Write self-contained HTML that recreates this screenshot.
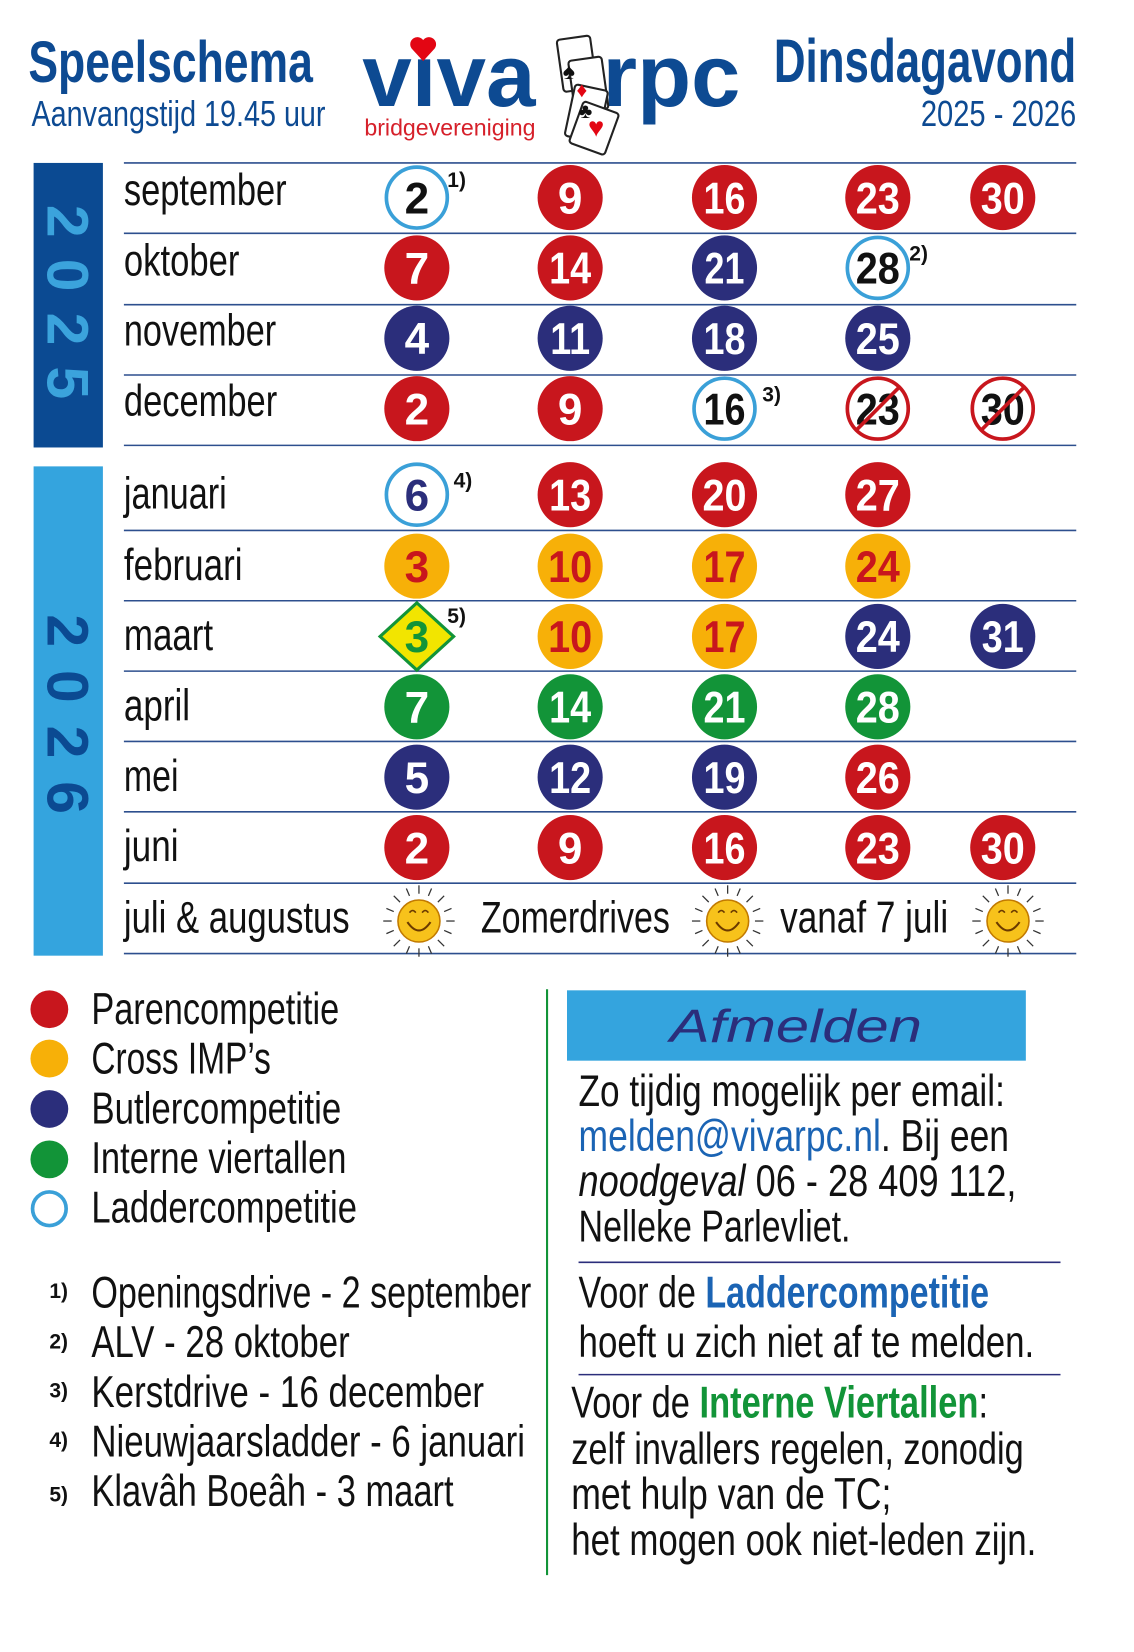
<!DOCTYPE html>
<html><head><meta charset="utf-8"><style>
html,body{margin:0;padding:0;background:#fff;}
svg{display:block;}
text{font-family:"Liberation Sans",sans-serif;}
</style></head><body>
<svg width="1134" height="1652" viewBox="0 0 1080 1573" xmlns="http://www.w3.org/2000/svg">
<rect width="1080" height="1573" fill="#fff"/>
<!-- header -->
<text x="27" y="78" font-size="56" font-weight="bold" fill="#0d4a92" textLength="271" lengthAdjust="spacingAndGlyphs">Speelschema</text>
<text x="30" y="120" font-size="34" fill="#0d4a92" textLength="280" lengthAdjust="spacingAndGlyphs">Aanvangstijd 19.45 uur</text>
<text x="737" y="78" font-size="58" font-weight="bold" fill="#0d4a92" textLength="288" lengthAdjust="spacingAndGlyphs">Dinsdagavond</text>
<text x="877" y="120" font-size="34" fill="#0d4a92" textLength="148" lengthAdjust="spacingAndGlyphs">2025 - 2026</text>
<!-- logo -->
<text x="345" y="101" font-size="84" font-weight="bold" fill="#0d4a92" textLength="165" lengthAdjust="spacingAndGlyphs">viva</text>
<text x="574" y="101" font-size="84" font-weight="bold" fill="#0d4a92" textLength="131" lengthAdjust="spacingAndGlyphs">rpc</text>
<text x="347" y="129" font-size="22" fill="#d6202a" textLength="163" lengthAdjust="spacingAndGlyphs">bridgevereniging</text>
<path d="M403 58 L392 46 A6 6 0 0 1 403 38 A6 6 0 0 1 414 46 Z" fill="#e30613"/>
<g stroke="#222" stroke-width="2" fill="#fff">
<rect x="0" y="0" width="32" height="50" rx="3" transform="translate(530 38) rotate(-8)"/>
<rect x="0" y="0" width="32" height="50" rx="3" transform="translate(541 58) rotate(-8)"/>
<rect x="0" y="0" width="32" height="50" rx="3" transform="translate(548 80) rotate(12)"/>
<rect x="0" y="0" width="36" height="42" rx="3" transform="translate(556 96) rotate(20)"/>
</g>
<text x="536" y="75" font-size="22" fill="#111">♠</text>
<text x="549" y="92" font-size="20" fill="#e30613">♦</text>
<text x="551" y="112" font-size="20" fill="#111">♣</text>
<text x="560" y="130" font-size="26" fill="#e30613">♥</text>
<!-- year bars -->
<rect x="32" y="155" width="66" height="271" fill="#0b4a92"/>
<text transform="translate(45 195) rotate(90)" font-size="56" font-weight="bold" fill="#3ba3dc" textLength="185" lengthAdjust="spacing">2025</text>
<rect x="32" y="444" width="66" height="466" fill="#34a4de"/>
<text transform="translate(45 585) rotate(90)" font-size="56" font-weight="bold" fill="#0b4a92" textLength="190" lengthAdjust="spacing">2026</text>
<!-- lines -->
<g stroke="#2d4f8e" stroke-width="1.5">
<line x1="118" y1="155" x2="1025" y2="155"/><line x1="118" y1="222" x2="1025" y2="222"/>
<line x1="118" y1="290" x2="1025" y2="290"/><line x1="118" y1="357" x2="1025" y2="357"/>
<line x1="118" y1="424" x2="1025" y2="424"/><line x1="118" y1="505" x2="1025" y2="505"/>
<line x1="118" y1="572" x2="1025" y2="572"/><line x1="118" y1="639" x2="1025" y2="639"/>
<line x1="118" y1="706" x2="1025" y2="706"/><line x1="118" y1="773" x2="1025" y2="773"/>
<line x1="118" y1="841" x2="1025" y2="841"/><line x1="118" y1="908" x2="1025" y2="908"/>
</g>
<!-- months -->
<g font-size="42" fill="#111">
<text x="118" y="195" textLength="155" lengthAdjust="spacingAndGlyphs">september</text>
<text x="118" y="262" textLength="110" lengthAdjust="spacingAndGlyphs">oktober</text>
<text x="118" y="329" textLength="145" lengthAdjust="spacingAndGlyphs">november</text>
<text x="118" y="396" textLength="146" lengthAdjust="spacingAndGlyphs">december</text>
<text x="118" y="484" textLength="98" lengthAdjust="spacingAndGlyphs">januari</text>
<text x="118" y="552" textLength="113" lengthAdjust="spacingAndGlyphs">februari</text>
<text x="118" y="619" textLength="85" lengthAdjust="spacingAndGlyphs">maart</text>
<text x="118" y="686" textLength="63" lengthAdjust="spacingAndGlyphs">april</text>
<text x="118" y="753" textLength="52" lengthAdjust="spacingAndGlyphs">mei</text>
<text x="118" y="820" textLength="52" lengthAdjust="spacingAndGlyphs">juni</text>
<text x="118" y="888" textLength="215" lengthAdjust="spacingAndGlyphs">juli &amp; augustus</text>
<text x="458" y="888" textLength="180" lengthAdjust="spacingAndGlyphs">Zomerdrives</text>
<text x="743" y="888" textLength="160" lengthAdjust="spacingAndGlyphs">vanaf 7 juli</text>
</g>
<!-- circles -->
<g font-size="42" font-weight="bold" text-anchor="middle">
<circle cx="397" cy="188" r="29" fill="#fff" stroke="#3aa0d8" stroke-width="3.5"/><text x="397" y="203" fill="#111">2</text>
<circle cx="543" cy="188" r="31" fill="#c8161d"/><text x="543" y="203" fill="#fff">9</text>
<circle cx="690" cy="188" r="31" fill="#c8161d"/><text x="690" y="203" fill="#fff" textLength="40" lengthAdjust="spacingAndGlyphs">16</text>
<circle cx="836" cy="188" r="31" fill="#c8161d"/><text x="836" y="203" fill="#fff" textLength="42" lengthAdjust="spacingAndGlyphs">23</text>
<circle cx="955" cy="188" r="31" fill="#c8161d"/><text x="955" y="203" fill="#fff" textLength="42" lengthAdjust="spacingAndGlyphs">30</text>
<circle cx="397" cy="255" r="31" fill="#c8161d"/><text x="397" y="270" fill="#fff">7</text>
<circle cx="543" cy="255" r="31" fill="#c8161d"/><text x="543" y="270" fill="#fff" textLength="40" lengthAdjust="spacingAndGlyphs">14</text>
<circle cx="690" cy="255" r="31" fill="#2b2e7b"/><text x="690" y="270" fill="#fff" textLength="38" lengthAdjust="spacingAndGlyphs">21</text>
<circle cx="836" cy="255" r="29" fill="#fff" stroke="#3aa0d8" stroke-width="3.5"/><text x="836" y="270" fill="#111" textLength="42" lengthAdjust="spacingAndGlyphs">28</text>
<circle cx="397" cy="322" r="31" fill="#2b2e7b"/><text x="397" y="337" fill="#fff">4</text>
<circle cx="543" cy="322" r="31" fill="#2b2e7b"/><text x="543" y="337" fill="#fff" textLength="38" lengthAdjust="spacingAndGlyphs">11</text>
<circle cx="690" cy="322" r="31" fill="#2b2e7b"/><text x="690" y="337" fill="#fff" textLength="40" lengthAdjust="spacingAndGlyphs">18</text>
<circle cx="836" cy="322" r="31" fill="#2b2e7b"/><text x="836" y="337" fill="#fff" textLength="42" lengthAdjust="spacingAndGlyphs">25</text>
<circle cx="397" cy="389" r="31" fill="#c8161d"/><text x="397" y="404" fill="#fff">2</text>
<circle cx="543" cy="389" r="31" fill="#c8161d"/><text x="543" y="404" fill="#fff">9</text>
<circle cx="690" cy="389" r="29" fill="#fff" stroke="#3aa0d8" stroke-width="3.5"/><text x="690" y="404" fill="#111" textLength="40" lengthAdjust="spacingAndGlyphs">16</text>
<circle cx="836" cy="389" r="29" fill="#fff" stroke="#c8161d" stroke-width="3.5"/><text x="836" y="404" fill="#111" textLength="42" lengthAdjust="spacingAndGlyphs">23</text>
<line x1="815" y1="410" x2="857" y2="368" stroke="#c8161d" stroke-width="3.5"/>
<circle cx="955" cy="389" r="29" fill="#fff" stroke="#c8161d" stroke-width="3.5"/><text x="955" y="404" fill="#111" textLength="42" lengthAdjust="spacingAndGlyphs">30</text>
<line x1="934" y1="410" x2="976" y2="368" stroke="#c8161d" stroke-width="3.5"/>
<circle cx="397" cy="471" r="29" fill="#fff" stroke="#3aa0d8" stroke-width="3.5"/><text x="397" y="486" fill="#2b2e7b">6</text>
<circle cx="543" cy="471" r="31" fill="#c8161d"/><text x="543" y="486" fill="#fff" textLength="40" lengthAdjust="spacingAndGlyphs">13</text>
<circle cx="690" cy="471" r="31" fill="#c8161d"/><text x="690" y="486" fill="#fff" textLength="42" lengthAdjust="spacingAndGlyphs">20</text>
<circle cx="836" cy="471" r="31" fill="#c8161d"/><text x="836" y="486" fill="#fff" textLength="42" lengthAdjust="spacingAndGlyphs">27</text>
<circle cx="397" cy="539" r="31" fill="#f7b008"/><text x="397" y="554" fill="#c8161d">3</text>
<circle cx="543" cy="539" r="31" fill="#f7b008"/><text x="543" y="554" fill="#c8161d" textLength="42" lengthAdjust="spacingAndGlyphs">10</text>
<circle cx="690" cy="539" r="31" fill="#f7b008"/><text x="690" y="554" fill="#c8161d" textLength="40" lengthAdjust="spacingAndGlyphs">17</text>
<circle cx="836" cy="539" r="31" fill="#f7b008"/><text x="836" y="554" fill="#c8161d" textLength="42" lengthAdjust="spacingAndGlyphs">24</text>
<polygon points="397,574 432,606 397,638 362,606" fill="#f2e500" stroke="#129438" stroke-width="3"/><text x="397" y="621" fill="#129438">3</text>
<circle cx="543" cy="606" r="31" fill="#f7b008"/><text x="543" y="621" fill="#c8161d" textLength="42" lengthAdjust="spacingAndGlyphs">10</text>
<circle cx="690" cy="606" r="31" fill="#f7b008"/><text x="690" y="621" fill="#c8161d" textLength="40" lengthAdjust="spacingAndGlyphs">17</text>
<circle cx="836" cy="606" r="31" fill="#2b2e7b"/><text x="836" y="621" fill="#fff" textLength="42" lengthAdjust="spacingAndGlyphs">24</text>
<circle cx="955" cy="606" r="31" fill="#2b2e7b"/><text x="955" y="621" fill="#fff" textLength="40" lengthAdjust="spacingAndGlyphs">31</text>
<circle cx="397" cy="673" r="31" fill="#129438"/><text x="397" y="688" fill="#fff">7</text>
<circle cx="543" cy="673" r="31" fill="#129438"/><text x="543" y="688" fill="#fff" textLength="40" lengthAdjust="spacingAndGlyphs">14</text>
<circle cx="690" cy="673" r="31" fill="#129438"/><text x="690" y="688" fill="#fff" textLength="40" lengthAdjust="spacingAndGlyphs">21</text>
<circle cx="836" cy="673" r="31" fill="#129438"/><text x="836" y="688" fill="#fff" textLength="42" lengthAdjust="spacingAndGlyphs">28</text>
<circle cx="397" cy="740" r="31" fill="#2b2e7b"/><text x="397" y="755" fill="#fff">5</text>
<circle cx="543" cy="740" r="31" fill="#2b2e7b"/><text x="543" y="755" fill="#fff" textLength="40" lengthAdjust="spacingAndGlyphs">12</text>
<circle cx="690" cy="740" r="31" fill="#2b2e7b"/><text x="690" y="755" fill="#fff" textLength="40" lengthAdjust="spacingAndGlyphs">19</text>
<circle cx="836" cy="740" r="31" fill="#c8161d"/><text x="836" y="755" fill="#fff" textLength="42" lengthAdjust="spacingAndGlyphs">26</text>
<circle cx="397" cy="807" r="31" fill="#c8161d"/><text x="397" y="822" fill="#fff">2</text>
<circle cx="543" cy="807" r="31" fill="#c8161d"/><text x="543" y="822" fill="#fff">9</text>
<circle cx="690" cy="807" r="31" fill="#c8161d"/><text x="690" y="822" fill="#fff" textLength="40" lengthAdjust="spacingAndGlyphs">16</text>
<circle cx="836" cy="807" r="31" fill="#c8161d"/><text x="836" y="822" fill="#fff" textLength="42" lengthAdjust="spacingAndGlyphs">23</text>
<circle cx="955" cy="807" r="31" fill="#c8161d"/><text x="955" y="822" fill="#fff" textLength="42" lengthAdjust="spacingAndGlyphs">30</text>
</g>
<g font-size="20" font-weight="bold" fill="#111">
<text x="426" y="178">1)</text><text x="866" y="248">2)</text><text x="726" y="382">3)</text><text x="432" y="464">4)</text><text x="426" y="593">5)</text>
</g>
<!-- suns -->
<g id="sun">
<g stroke="#333" stroke-width="1.2">
<line x1="399" y1="843" x2="399" y2="851"/><line x1="399" y1="903" x2="399" y2="911"/>
<line x1="365" y1="877" x2="373" y2="877"/><line x1="425" y1="877" x2="433" y2="877"/>
<line x1="375" y1="853" x2="381" y2="859"/><line x1="417" y1="895" x2="423" y2="901"/>
<line x1="423" y1="853" x2="417" y2="859"/><line x1="381" y1="895" x2="375" y2="901"/>
<line x1="387" y1="846" x2="390" y2="853"/><line x1="411" y1="846" x2="408" y2="853"/>
<line x1="387" y1="908" x2="390" y2="901"/><line x1="411" y1="908" x2="408" y2="901"/>
<line x1="368" y1="865" x2="375" y2="868"/><line x1="368" y1="889" x2="375" y2="886"/>
<line x1="430" y1="865" x2="423" y2="868"/><line x1="430" y1="889" x2="423" y2="886"/>
</g>
<circle cx="399" cy="877" r="20" fill="#f7c21b" stroke="#c27a00" stroke-width="1.5"/>
<path d="M388 878 Q399 894 410 878" fill="none" stroke="#6b3a00" stroke-width="2"/>
<path d="M390 869 q3 -4 6 0 M402 869 q3 -4 6 0" fill="none" stroke="#6b3a00" stroke-width="1.5"/>
</g>
<use href="#sun" x="294" y="0"/>
<use href="#sun" x="561" y="0"/>
<!-- legend -->
<circle cx="47" cy="961" r="18" fill="#c8161d"/>
<circle cx="47" cy="1008" r="18" fill="#f7b008"/>
<circle cx="47" cy="1056" r="18" fill="#2b2e7b"/>
<circle cx="47" cy="1104" r="18" fill="#129438"/>
<circle cx="47" cy="1151" r="16" fill="#fff" stroke="#3aa0d8" stroke-width="3.5"/>
<g font-size="42" fill="#111">
<text x="87" y="975" textLength="236" lengthAdjust="spacingAndGlyphs">Parencompetitie</text>
<text x="87" y="1022" textLength="171" lengthAdjust="spacingAndGlyphs">Cross IMP’s</text>
<text x="87" y="1070" textLength="238" lengthAdjust="spacingAndGlyphs">Butlercompetitie</text>
<text x="87" y="1117" textLength="243" lengthAdjust="spacingAndGlyphs">Interne viertallen</text>
<text x="87" y="1164" textLength="253" lengthAdjust="spacingAndGlyphs">Laddercompetitie</text>
<text x="87" y="1245" textLength="419" lengthAdjust="spacingAndGlyphs">Openingsdrive - 2 september</text>
<text x="87" y="1292" textLength="246" lengthAdjust="spacingAndGlyphs">ALV - 28 oktober</text>
<text x="87" y="1340" textLength="374" lengthAdjust="spacingAndGlyphs">Kerstdrive - 16 december</text>
<text x="87" y="1387" textLength="413" lengthAdjust="spacingAndGlyphs">Nieuwjaarsladder - 6 januari</text>
<text x="87" y="1434" textLength="345" lengthAdjust="spacingAndGlyphs">Klavâh Boeâh - 3 maart</text>
</g>
<g font-size="20" font-weight="bold" fill="#111">
<text x="47" y="1236">1)</text><text x="47" y="1284">2)</text><text x="47" y="1331">3)</text><text x="47" y="1378">4)</text><text x="47" y="1430">5)</text>
</g>
<line x1="521" y1="942" x2="521" y2="1500" stroke="#129438" stroke-width="2"/>
<!-- afmelden -->
<rect x="540" y="943" width="437" height="67" fill="#34a4de"/>
<text x="758" y="992" text-anchor="middle" font-family="'DejaVu Serif',serif" font-style="italic" font-size="44" fill="#2b2e7b" textLength="240" lengthAdjust="spacingAndGlyphs">Afmelden</text>
<g font-size="42" fill="#111">
<text x="551" y="1053" textLength="406" lengthAdjust="spacingAndGlyphs">Zo tijdig mogelijk per email:</text>
<text x="551" y="1096" textLength="410" lengthAdjust="spacingAndGlyphs"><tspan fill="#1b64b4">melden@vivarpc.nl</tspan>. Bij een</text>
<text x="551" y="1139" textLength="417" lengthAdjust="spacingAndGlyphs"><tspan font-style="italic">noodgeval</tspan>  06 - 28 409 112,</text>
<text x="551" y="1182" textLength="259" lengthAdjust="spacingAndGlyphs">Nelleke Parlevliet.</text>
<text x="551" y="1245" textLength="391" lengthAdjust="spacingAndGlyphs">Voor de <tspan font-weight="bold" fill="#1b64b4">Laddercompetitie</tspan></text>
<text x="551" y="1292" textLength="434" lengthAdjust="spacingAndGlyphs">hoeft u zich niet af te melden.</text>
<text x="544" y="1350" textLength="397" lengthAdjust="spacingAndGlyphs">Voor de <tspan font-weight="bold" fill="#129438">Interne Viertallen</tspan>:</text>
<text x="544" y="1394" textLength="431" lengthAdjust="spacingAndGlyphs">zelf invallers regelen, zonodig</text>
<text x="544" y="1437" textLength="305" lengthAdjust="spacingAndGlyphs">met hulp van de TC;</text>
<text x="544" y="1481" textLength="443" lengthAdjust="spacingAndGlyphs">het mogen ook niet-leden zijn.</text>
</g>
<line x1="551" y1="1202" x2="1010" y2="1202" stroke="#2b2e7b" stroke-width="1.5"/>
<line x1="551" y1="1309" x2="1010" y2="1309" stroke="#2b2e7b" stroke-width="1.5"/>
</svg>
</body></html>
